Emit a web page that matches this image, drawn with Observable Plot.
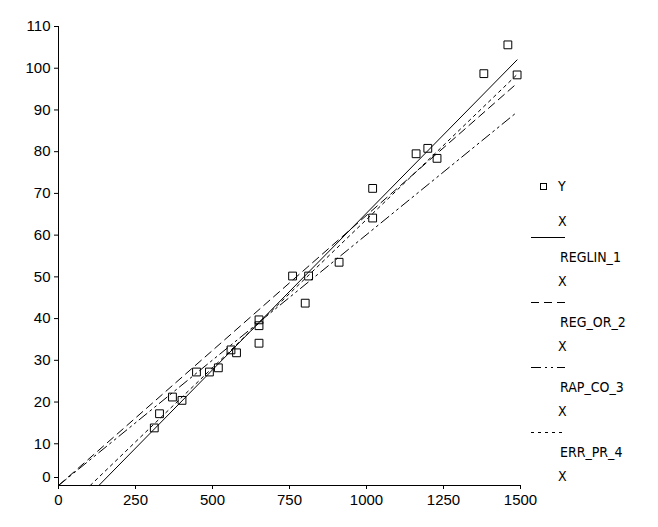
<!DOCTYPE html>
<html>
<head>
<meta charset="utf-8">
<script src="https://cdn.jsdelivr.net/npm/d3@7"></script>
<script src="https://cdn.jsdelivr.net/npm/@observablehq/plot@0.6"></script>
<style>
  html, body { margin: 0; padding: 0; background: #fff; }
  #chart { width: 658px; height: 527px; position: relative; }
</style>
</head>
<body>
<div id="chart"></div>
<script>
// Observed points (X, Y)
const pointX = [311,328,370,401,448,490,519,560,578,651,651,651,760,812,801,911,1020,1020,1161,1199,1229,1381,1459,1489];
const pointY = [13.8,17.2,21.2,20.4,27.2,27.2,28.2,32.5,31.8,39.7,38.3,34.1,50.2,50.2,43.7,53.5,71.2,64.1,79.5,80.8,78.4,98.7,105.6,98.4];

// Fitted lines: start and end points
const lineNames = ["REGLIN_1", "REG_OR_2", "RAP_CO_3", "ERR_PR_4"];
const lineStartX = [131, 0, 0, 103];
const lineStartY = [0, 0, 0, 0];
const lineEndX = [1489, 1489, 1489, 1489];
const lineEndY = [102.0, 96.4, 89.5, 98.5];
const lineDash = [null, "8,5", "10,4,2,4,2,4", "3,4"];

const xTicks = [0, 250, 500, 750, 1000, 1250, 1500];
const yTicks = [10, 20, 30, 40, 50, 60, 70, 80, 90, 100, 110];
const yTickZero = [0];

const points = pointX.map((x, i) => ({x, y: pointY[i]}));
const lines = lineNames.map((name, i) => [
  {name, x: lineStartX[i], y: lineStartY[i]},
  {name, x: lineEndX[i], y: lineEndY[i]}
]);

const plot = Plot.plot({
  width: 658,
  height: 527,
  marginLeft: 58,
  marginRight: 138,
  marginTop: 26,
  marginBottom: 42,
  style: {fontFamily: "'Liberation Sans', Arial, sans-serif", fontSize: "15px", color: "#000", background: "#fff"},
  x: {domain: [0, 1500]},
  y: {domain: [0, 110]},
  marks: [
    ...lines.map((ln, i) => Plot.line(ln, {
      x: "x", y: "y", stroke: "#000", strokeWidth: 1,
      strokeDasharray: lineDash[i] || undefined
    })),
    Plot.dot(points, {x: "x", y: "y", symbol: "square", r: 4.4, stroke: "#000", fill: "none", strokeWidth: 1}),
    Plot.ruleX([0], {stroke: "#000"}),
    Plot.ruleY([0], {stroke: "#000"}),
    Plot.axisX({ticks: xTicks, tickSize: 4, tickPadding: 5, tickFormat: d => String(d), label: null, fontSize: 15}),
    Plot.axisY({ticks: yTicks, tickSize: 4, tickPadding: 4, tickFormat: d => String(d), label: null, fontSize: 15}),
    Plot.axisY({ticks: yTickZero, tickSize: 4, tickPadding: 4, tickFormat: d => String(d), label: null, dy: -8, fontSize: 15})
  ]
});

document.getElementById("chart").appendChild(plot);

// Legend (layout drawn in the SVG's own pixel space)
const svg = d3.select(plot);
const lg = svg.append("g")
  .attr("font-family", "'DejaVu Sans Condensed', 'Liberation Sans', Arial, sans-serif")
  .attr("font-size", 14)
  .attr("text-anchor", "start")
  .attr("fill", "#000");
const textX = 558;
lg.append("rect").attr("x", 540.5).attr("y", 183.5).attr("width", 6).attr("height", 6).attr("fill", "none").attr("stroke", "#000");
lg.append("text").attr("x", textX).attr("y", 186).attr("dy", "0.35em").text("Y");
lg.append("text").attr("x", textX).attr("y", 221).attr("dy", "0.35em").text("X");
const lineRows = [237.5, 302.5, 367.5, 432.5];
lineNames.forEach((name, i) => {
  const ly = lineRows[i];
  lg.append("line").attr("x1", 531).attr("x2", 565).attr("y1", ly).attr("y2", ly)
    .attr("stroke", "#000").attr("stroke-width", 1)
    .attr("stroke-dasharray", lineDash[i] || null);
  lg.append("text").attr("x", textX + 2).attr("y", ly + 20).attr("dy", "0.35em").text(name);
  lg.append("text").attr("x", textX).attr("y", ly + 44).attr("dy", "0.35em").text("X");
});
</script>
</body>
</html>
